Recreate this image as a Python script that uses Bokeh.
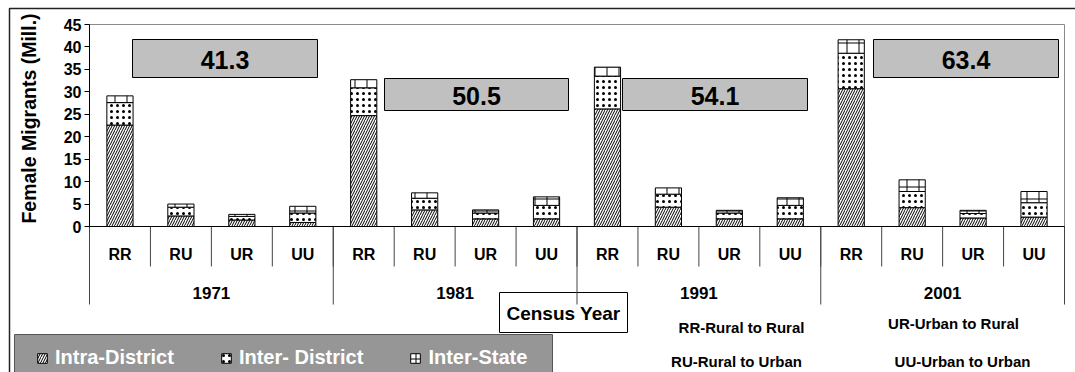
import math
from bokeh.plotting import figure
from bokeh.models import (Range1d, FixedTicker, LinearAxis, CustomJSTickFormatter, Label,
                          BoxAnnotation, Legend, LegendItem, ColumnDataSource)
from bokeh.core.properties import value
from bokeh.embed import file_html
from bokeh.resources import INLINE

# Female migrants (millions) by census year and migration stream
years = ["1971", "1981", "1991", "2001"]
streams = ["RR", "RU", "UR", "UU"]
intra_district = [22.6, 2.35, 1.45, 0.9,
                  24.7, 3.7, 1.7, 1.7,
                  26.2, 4.3, 1.7, 1.7,
                  30.7, 4.2, 1.9, 2.1]
inter_district = [5.0, 1.95, 0.8, 2.1,
                  6.2, 2.6, 1.3, 3.0,
                  7.3, 2.9, 1.3, 3.0,
                  7.9, 3.6, 1.0, 3.2]
inter_state = [1.5, 0.7, 0.45, 1.5,
               1.8, 1.2, 0.7, 1.9,
               2.0, 1.4, 0.6, 1.7,
               3.0, 2.6, 0.7, 2.5]
series_names = ["Intra-District", "Inter- District", "Inter-State"]
stream_notes = ["RR-Rural to Rural", "RU-Rural to Urban", "UR-Urban to Rural", "UU-Urban to Urban"]
y_ticks = [0, 5, 10, 15, 20, 25, 30, 35, 40, 45]

FONT = "Liberation Sans"
W, H = 1075, 372
PL, PR, PT, PB = 89, 1064, 24, 226   # plotting area edges on the page
Y_MAX = 45
n = len(years) * len(streams)
per = len(streams)

codes = [s for _ in years for s in streams]
xs = [i + 0.5 for i in range(n)]


def data_x(px):
    return (px - PL) / (PR - PL) * n


def data_y(py):
    return (PB - py) / (PB - PT) * Y_MAX


# the frame fills the whole page; axes are pinned to the plotting area
p = figure(width=W, height=H,
           x_range=Range1d(data_x(0), data_x(W)), y_range=Range1d(data_y(H), data_y(0)),
           output_backend="svg", toolbar_location=None,
           x_axis_location=None, y_axis_location=None,
           min_border=0, min_border_left=0, min_border_right=0,
           min_border_top=0, min_border_bottom=0)
p.background_fill_color = "white"
p.border_fill_color = "white"
p.outline_line_color = None
p.xgrid.visible = False
p.ygrid.visible = False

# grey border of the plotting area
p.add_layout(BoxAnnotation(left=0, right=n, bottom=0, top=Y_MAX, fill_alpha=0,
                           line_color="#8a8a8a", line_alpha=1, line_width=1, level="underlay"))

# outer frame of the chart
p.add_layout(BoxAnnotation(left=data_x(9), right=data_x(1100), top=data_y(8), bottom=data_y(420),
                           fill_alpha=0, line_color="#222222", line_alpha=1, line_width=1.5))

src = ColumnDataSource(dict(x=xs, code=codes, intra=intra_district,
                            inter_d=inter_district, inter_s=inter_state))
bars = p.vbar_stack(["intra", "inter_d", "inter_s"], x="x", width=0.43, source=src,
                    fill_color="white", line_color="black", line_width=1,
                    hatch_color="black", hatch_pattern=["/", ".", "+"],
                    hatch_scale=[5, 6, 12], hatch_weight=[1, 0.7, 1])

# y axis
yaxis = LinearAxis(fixed_location=0, bounds=(0, Y_MAX),
                   ticker=FixedTicker(ticks=y_ticks, minor_ticks=[]),
                   major_label_text_font=FONT, major_label_text_font_style="bold",
                   major_label_text_font_size="16px", major_label_text_color="black",
                   major_label_standoff=3,
                   major_tick_out=5, major_tick_in=0, minor_tick_line_color=None,
                   axis_line_color="black", major_tick_line_color="black")
p.add_layout(yaxis, "left")
p.add_layout(Label(x=data_x(28.5), y=data_y(118), angle=math.pi / 2,
                   text="Female Migrants (Mill.)", text_align="center", text_baseline="middle",
                   text_font=FONT, text_font_style="bold", text_font_size="19.5px",
                   text_color="black"))

# x axis: stream codes centred in each slot
xaxis = LinearAxis(fixed_location=0, bounds=(0, n),
                   ticker=FixedTicker(ticks=xs, minor_ticks=[]),
                   formatter=CustomJSTickFormatter(args=dict(codes=codes),
                                                   code="return codes[Math.floor(tick)];"),
                   major_tick_line_color=None, major_tick_out=0, major_tick_in=0,
                   minor_tick_line_color=None,
                   major_label_text_font=FONT, major_label_text_font_style="bold",
                   major_label_text_font_size="16px", major_label_text_color="black",
                   major_label_standoff=19, axis_line_color="black")
p.add_layout(xaxis, "below")

# "Census Year" box, drawn before the separators so they show through
p.quad(left=[data_x(499)], right=[data_x(627)], top=[data_y(292)], bottom=[data_y(332)],
       fill_color="white", line_color="black", line_width=1)

# slot separators (short) and census-year separators (long)
slot_edges = list(range(n + 1))
year_edges = slot_edges[::per]
p.segment(x0=slot_edges, y0=0, x1=slot_edges, y1=data_y(266), line_color="#444444", line_width=1)
p.segment(x0=year_edges, y0=0, x1=year_edges, y1=data_y(304), line_color="#444444", line_width=1)

p.text(x=[data_x(563)], y=[data_y(313)], text=["Census Year"], text_align="center",
       text_baseline="middle", text_font=value(FONT), text_font_style="bold",
       text_font_size="19px", text_color="black")

# census year labels under each group
p.text(x=[g * per + per / 2 for g in range(len(years))], y=[data_y(292)] * len(years), text=years,
       text_align="center", text_baseline="middle", text_font=value(FONT),
       text_font_style="bold", text_font_size="17px", text_color="black")

# totals per census year in grey boxes
total_boxes = [(132, 317, 39, 77), (384, 568, 78, 110), (622, 807, 78, 110), (873, 1058, 39, 77)]
for g, (bl, br, bt, bb) in enumerate(total_boxes):
    s = slice(g * per, (g + 1) * per)
    total = sum(intra_district[s]) + sum(inter_district[s]) + sum(inter_state[s])
    p.add_layout(BoxAnnotation(left=data_x(bl), right=data_x(br), top=data_y(bt), bottom=data_y(bb),
                               fill_color="#c0c0c0", fill_alpha=1, line_color="black",
                               line_alpha=1, line_width=1))
    p.add_layout(Label(x=data_x((bl + br) / 2), y=data_y((bt + bb) / 2 + 1), text=f"{total:.1f}",
                       text_align="center", text_baseline="middle", text_font=FONT,
                       text_font_style="bold", text_font_size="25px", text_color="black"))

# stream code notes
note_pos = [(741, 327), (736, 361), (953, 323), (962, 361)]
p.text(x=[data_x(a) for a, _ in note_pos], y=[data_y(b) for _, b in note_pos], text=stream_notes,
       text_align="center", text_baseline="middle", text_font=value(FONT),
       text_font_style="bold", text_font_size="15px", text_color="black")

# legend panel
p.add_layout(BoxAnnotation(left=data_x(14), right=data_x(552), top=data_y(334), bottom=data_y(420),
                           fill_color="#969696", fill_alpha=1, line_color="#555555",
                           line_alpha=1, line_width=1))
legend = Legend(items=[LegendItem(label=name, renderers=[r]) for name, r in zip(series_names, bars)],
                orientation="horizontal", location=(36, 3),
                background_fill_alpha=0, border_line_color=None,
                padding=4, margin=0, spacing=46, label_standoff=7,
                glyph_width=12, glyph_height=12,
                label_text_font=FONT, label_text_font_style="bold",
                label_text_font_size="20px", label_text_color="white")
p.add_layout(legend, "center")

open("out.html", "w").write(file_html(p, INLINE))
